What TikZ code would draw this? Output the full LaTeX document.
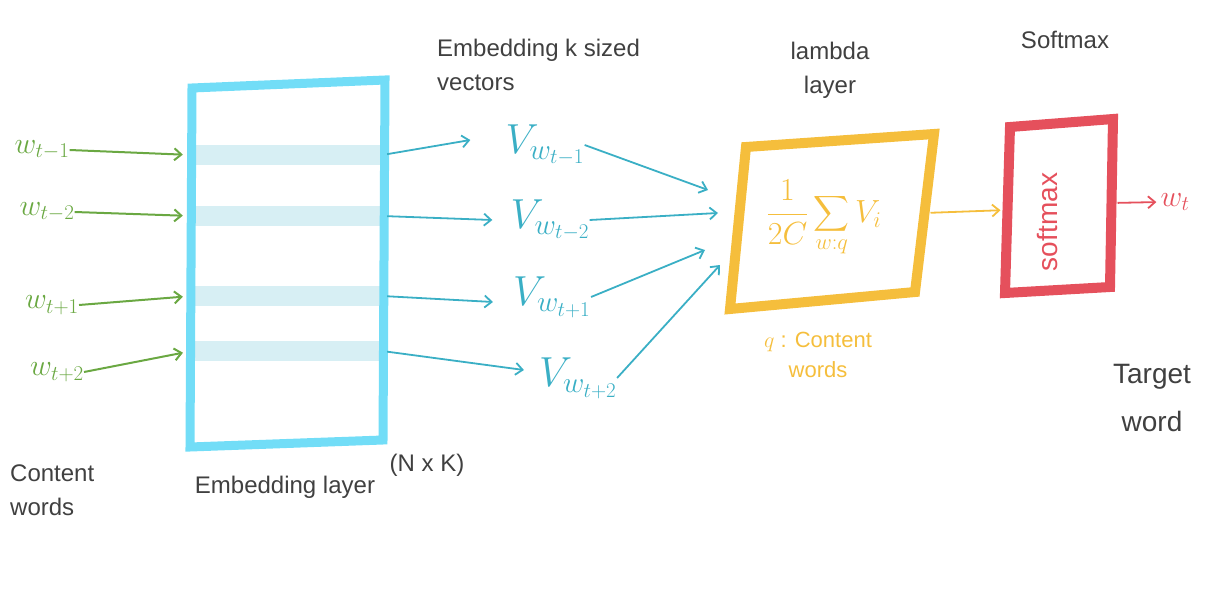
\documentclass[tikz,border=0pt]{standalone}
\usepackage{fix-cm}
\usepackage{amsmath}
\usepackage{fontspec}
\setmainfont{Liberation Sans}
\usetikzlibrary{arrows.meta, positioning, calc}
\definecolor{embCyan}{HTML}{72DDF7}
\definecolor{bandCyan}{HTML}{D7EFF4}
\definecolor{inGreen}{HTML}{6AA842}
\definecolor{vecTeal}{HTML}{3AAFC5}
\definecolor{lamGold}{HTML}{F5BE3C}
\definecolor{softRed}{HTML}{E5505C}
\definecolor{inkGray}{HTML}{404040}
\tikzset{
    hand/.style={text=inkGray, font=\fontsize{24}{34}\selectfont, align=left, inner sep=0pt},
    wlabel/.style={text=inGreen, font=\fontsize{30}{34}\selectfont, inner sep=0pt},
    vlabel/.style={text=vecTeal, font=\fontsize{42}{46}\selectfont, inner sep=0pt},
    band/.style={fill=bandCyan, minimum width=190pt, minimum height=20pt, inner sep=0pt},
    greenarr/.style={-{Straight Barb[length=7pt, width=12pt]}, inGreen, line width=2pt, shorten >=9pt},
    tealarr/.style={-{Straight Barb[length=7pt, width=12pt]}, vecTeal, line width=1.8pt},
    boxline/.style={line width=9pt, line join=miter}
}
\begin{document}
\begin{tikzpicture}[x=1pt, y=1pt]
    \useasboundingbox (0,0) rectangle (1208,-599);

    % --- EMBEDDING LAYER ---
    \foreach \by [count=\i] in {155,216,296,351}
        \node[band] (b\i) at (287,-\by) {};
    \coordinate (embTL) at (192,-88);
    \coordinate (embTR) at (385,-80);
    \coordinate (embBR) at (383,-440);
    \coordinate (embBL) at (190,-447);
    \draw[boxline, embCyan] (embTL) -- (embTR) -- (embBR) -- (embBL) -- cycle;
    \node[hand] (emblabel) at (285,-487) {Embedding layer};
    \node[hand] (nxk) at (427,-465) {(N x K)};

    % Context words in
    \foreach \i/\lx/\ly/\sub in {1/42/150/t-1, 2/47/212/t-2, 3/52/305/t+1, 4/57/372/t+2}
        \node[wlabel] (w\i) at (\lx,-\ly) {$w_{\sub}$};
    \foreach \i in {1,...,4}
        \draw[greenarr] (w\i.east) -- (b\i.west);
    \node[hand, anchor=west] (ctxwords) at (10,-490) {Content\\words};

    % --- VECTORS ---
    \node[hand, anchor=west] (vectitle) at (437,-65) {Embedding k sized\\vectors};
    \foreach \i/\vx/\vy/\sub in {1/545/145/t-1, 2/550/220/t-2, 3/552/297/t+1, 4/578/378/t+2}
        \node[vlabel] (v\i) at (\vx,-\vy) {$V_{w_{\sub}}$};
    \foreach \i/\dx/\dy in {1/-35/5, 2/-18/0, 3/-20/-5, 4/-15/8}
        \draw[tealarr, shorten <=5pt] (b\i.east) -- ($(v\i.west)+(\dx,\dy)$);

    % --- LAMBDA LAYER ---
    \coordinate (lamTL) at (746,-147);
    \coordinate (lamTR) at (934,-134);
    \coordinate (lamBR) at (915,-292);
    \coordinate (lamBL) at (730,-309);
    \draw[boxline, line width=10pt, lamGold] (lamTL) -- (lamTR) -- (lamBR) -- (lamBL) -- cycle;
    \coordinate (lamR) at ($(lamTR)!0.5!(lamBR)$);
    \node[text=lamGold, font=\fontsize{32}{36}\selectfont] (sumexpr) at (824,-218)
        {$\displaystyle\frac{1}{2C}\sum_{w:q}V_i$};
    \node[hand, align=center] (lamtitle) at (830,-70) {lambda\\layer};
    \node[hand, text=lamGold, align=center, font=\fontsize{22}{30}\selectfont] (ctxnote) at (818,-355) {$q$ : Content\\words};

    \coordinate (in1) at (708,-190);
    \coordinate (in2) at (718,-213);
    \coordinate (in3) at (705,-250);
    \coordinate (in4) at (720,-265);
    \foreach \i in {1,...,4}
        \draw[tealarr] (v\i.east) -- (in\i);

    % --- SOFTMAX ---
    \coordinate (smTL) at (1010,-127);
    \coordinate (smTR) at (1113,-119);
    \coordinate (smBR) at (1110,-287);
    \coordinate (smBL) at (1005,-293);
    \draw[boxline, line width=10pt, softRed] (smTL) -- (smTR) -- (smBR) -- (smBL) -- cycle;
    \coordinate (smL) at ($(smTL)!0.5!(smBL)$);
    \coordinate (smR) at ($(smTR)!0.5!(smBR)$);
    \node[rotate=90, text=softRed, font=\fontsize{28}{32}\selectfont] (smtext) at (1047,-222) {softmax};
    \node[hand] (smtitle) at (1065,-40) {Softmax};

    \draw[-{Straight Barb[length=7pt, width=12pt]}, lamGold, line width=1.8pt, shorten <=6pt, shorten >=7pt] (lamR) -- (smL);

    \node[text=softRed, font=\fontsize{30}{34}\selectfont, inner sep=0pt] (wt) at (1175,-202) {$w_t$};
    \draw[-{Straight Barb[length=7pt, width=12pt]}, softRed, line width=1.8pt, shorten <=6pt, shorten >=4pt] (smR) -- (wt.west);
    \node[hand, align=center, font=\fontsize{28}{48}\selectfont] (target) at (1152,-398) {Target\\word};
\end{tikzpicture}
\end{document}
